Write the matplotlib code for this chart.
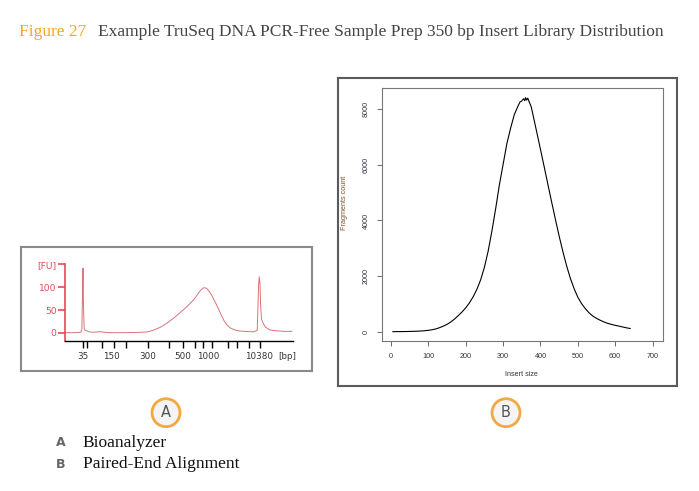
import matplotlib
matplotlib.use('Agg')
import matplotlib.pyplot as plt
from matplotlib.patches import Ellipse

W, H = 699, 491

# panel A: bioanalyzer trace (migration position 0-100, fluorescence FU)
bio_pos = [0, 4, 7.0, 7.4, 7.7, 7.9, 8.1, 8.4, 8.8, 9.6, 10.6, 12, 14, 15.4, 17, 20, 25, 30,
           33, 35.8, 38.5, 41.7, 44.6, 47.5, 50.4, 53.4, 56.3, 58, 59.2, 60.7, 62.1, 63.2,
           64.3, 65.4, 66.5, 67.6, 68.7, 69.8, 70.9, 72.3, 73.8, 75.3, 76.8, 80, 82.6, 84.3,
           84.6, 84.9, 85.2, 85.5, 85.8, 86.2, 87, 88, 89.9, 93, 96, 99.5]
bio_fu = [0, 0, 1, 8, 90, 142, 60, 10, 5, 4, 2, 1, 1.5, 2.5, 1, 0, 0, 0.5,
          0.8, 1.5, 5, 11.7, 20.5, 31.5, 44, 57, 72, 83, 92, 99, 98, 91,
          83, 72, 61, 49, 37, 26, 18, 11, 7.5, 4.8, 3.7, 2.5, 2, 5,
          50, 105, 123, 110, 60, 30, 20, 12, 6, 4, 3, 3]
ladder_ticks = [7.8, 9.8, 16.4, 21.5, 26.8, 36.5, 45.7, 51.6, 57.0, 60.4, 64.3, 71.6, 75.3, 80.8, 85.5]
ladder_labels = ['35', '150', '300', '500', '1000', '10380']
ladder_label_pos = [7.8, 20.5, 36.5, 51.6, 62.8, 85.3]
fu_ticks = [0, 50, 100, 151]
fu_labels = ['0', '50', '100', '[FU]']

# panel B: insert size distribution
insert_size = [5, 10, 20, 30, 40, 50, 60, 70, 80, 90, 100, 110, 120, 130, 140, 150, 160, 170,
               180, 190, 200, 210, 220, 230, 240, 250, 260, 270, 280, 290, 300, 310, 320, 330,
               340, 345, 350, 355, 358, 360, 363, 366, 370, 375, 380, 390, 400, 410, 420, 430,
               440, 450, 460, 470, 480, 490, 500, 510, 520, 530, 540, 550, 560, 570, 580, 590,
               600, 610, 620, 630, 640]
fragments = [0, 2, 3, 4, 6, 9, 13, 18, 25, 35, 50, 70, 100, 145, 200, 265, 350, 455,
             580, 710, 860, 1040, 1260, 1530, 1870, 2320, 2900, 3620, 4420, 5280, 6020, 6760, 7320, 7810,
             8120, 8260, 8300, 8380, 8310, 8420, 8330, 8400, 8260, 8100, 7800, 7180, 6560, 5930, 5290, 4660,
             4040, 3440, 2880, 2370, 1920, 1550, 1240, 1010, 830, 680, 565, 480, 410, 350, 300, 262,
             230, 200, 170, 140, 115]
size_ticks = [0, 100, 200, 300, 400, 500, 600, 700]
count_ticks = [0, 2000, 4000, 6000, 8000]


def box(left, top, right, bottom):
    return [left / W, 1 - bottom / H, (right - left) / W, (bottom - top) / H]


fig = plt.figure(figsize=(W / 100, H / 100), dpi=100)

# title
fig.text(19 / W, 1 - 32 / H, 'Figure 27', color='#f5a623', family='Liberation Serif',
         fontsize=12.5, va='center')
fig.text(98 / W, 1 - 32 / H,
         'Example TruSeq DNA PCR-Free Sample Prep 350 bp Insert Library Distribution',
         color='#444444', family='Liberation Serif', fontsize=12.5, va='center')

# ---- panel A ----
frame_a = fig.add_axes(box(20.7, 247.3, 311.7, 371))
frame_a.set_xticks([])
frame_a.set_yticks([])
for s in frame_a.spines.values():
    s.set_color('#8a8a8a')
    s.set_linewidth(1.5)

red = '#e8475a'
ax_a = fig.add_axes(box(65, 264, 293, 340.7))
ax_a.patch.set_alpha(0)
ax_a.plot(bio_pos, bio_fu, color='#d8737a', lw=0.7)
ax_a.set_xlim(0, 100)
ax_a.set_ylim(-17.6, 151.3)
ax_a.spines['top'].set_visible(False)
ax_a.spines['right'].set_visible(False)
ax_a.spines['left'].set_color(red)
ax_a.spines['left'].set_linewidth(1.2)
ax_a.spines['bottom'].set_color('black')
ax_a.spines['bottom'].set_linewidth(1.0)
ax_a.set_yticks(fu_ticks)
ax_a.set_yticklabels(fu_labels, family='DejaVu Sans', fontsize=6.6, color=red)
ax_a.tick_params(axis='y', colors=red, length=5, width=1.2, pad=1)
ax_a.set_xticks(ladder_ticks)
ax_a.set_xticklabels([''] * len(ladder_ticks))
ax_a.tick_params(axis='x', length=5, width=1.0, color='black')
for lab, p in zip(ladder_labels, ladder_label_pos):
    ax_a.text(p, -0.2, lab, transform=ax_a.get_xaxis_transform(), ha='center', va='center',
              family='DejaVu Sans', fontsize=6.3, color='#333333')
ax_a.text(97.5, -0.2, '[bp]', transform=ax_a.get_xaxis_transform(), ha='center', va='center',
          family='DejaVu Sans', fontsize=6.3, color='#333333')

# ---- panel B ----
frame_b = fig.add_axes(box(337.7, 78.3, 677, 386))
frame_b.set_xticks([])
frame_b.set_yticks([])
for s in frame_b.spines.values():
    s.set_color('#5a5a5a')
    s.set_linewidth(1.5)

ax_b = fig.add_axes(box(381.7, 88.3, 663, 340.7))
ax_b.patch.set_alpha(0)
ax_b.plot(insert_size, fragments, color='black', lw=0.8)
ax_b.set_xlim(-25, 728)
ax_b.set_ylim(-324, 8755)
for s in ax_b.spines.values():
    s.set_color('#777777')
    s.set_linewidth(0.8)
ax_b.set_xticks(size_ticks)
ax_b.set_xticklabels([str(t) for t in size_ticks], family='Liberation Sans', fontsize=5.2,
                     color='#333344')
ax_b.set_yticks(count_ticks)
ax_b.set_yticklabels([str(t) for t in count_ticks], family='Liberation Sans', fontsize=5.2,
                     color='#333344', rotation=90, va='center')
ax_b.tick_params(length=3.5, width=0.6, color='#555555', pad=5)
fig.text(521.7 / W, 1 - 375 / H, 'Insert size', family='Liberation Sans', fontsize=5.2,
         color='#333333', ha='center', va='center')
fig.text(345 / W, 1 - 203 / H, 'Fragments count', family='Liberation Sans', fontsize=5.2,
         color='#7a5230', ha='center', va='center', rotation=90)

# ---- panel tags ----
for letter, cx in [('A', 166), ('B', 506)]:
    fig.add_artist(Ellipse((cx / W, 1 - 412.7 / H), 28 / W, 28 / H, transform=fig.transFigure,
                           fc='#f4f4f4', ec='#f5a742', lw=2))
    fig.text(cx / W, 1 - 412.7 / H, letter, ha='center', va='center', family='DejaVu Sans',
             fontsize=10.5, color='#555555')

fig.text(60.7 / W, 1 - 443 / H, 'A', family='DejaVu Sans', fontsize=9, color='#666666',
         ha='center', va='center', weight='bold')
fig.text(82.7 / W, 1 - 443 / H, 'Bioanalyzer', family='Liberation Serif', fontsize=12.5,
         color='#111111', va='center')
fig.text(60.7 / W, 1 - 464 / H, 'B', family='DejaVu Sans', fontsize=9, color='#666666',
         ha='center', va='center', weight='bold')
fig.text(82.7 / W, 1 - 464 / H, 'Paired-End Alignment', family='Liberation Serif', fontsize=12.5,
         color='#111111', va='center')

fig.savefig('out.png', dpi=100)
